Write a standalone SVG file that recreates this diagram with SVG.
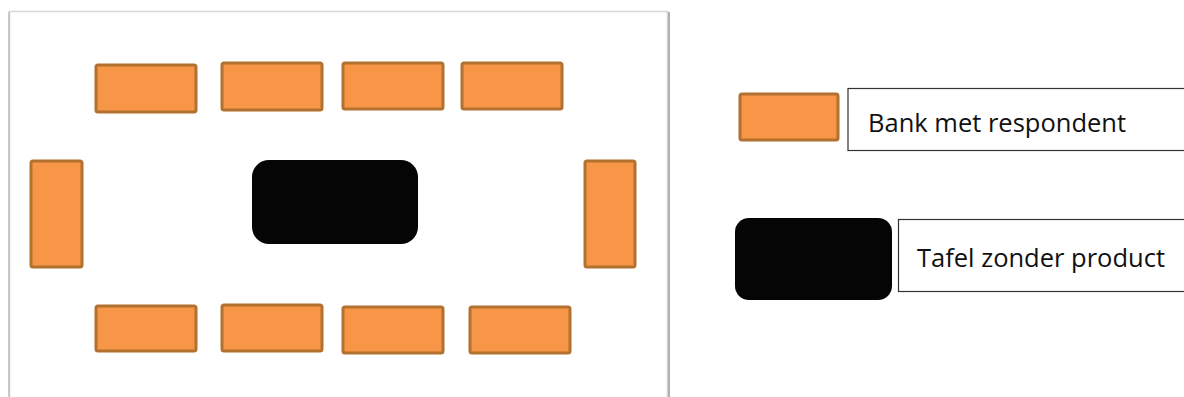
<svg xmlns="http://www.w3.org/2000/svg" width="1184" height="397" viewBox="0 0 1184 397">
<style>
.bank{fill:#F79646;stroke:#B3712F;stroke-width:3}
.table{fill:#050505}
.lbl{fill:#fff;stroke:#333;stroke-width:1.2}
.t{font-family:"Open Sans","Liberation Sans",sans-serif;font-size:25.5px;fill:#111}
</style>
<rect width="1184" height="397" fill="#fff"/>
<g id="frame">
<rect x="9.5" y="11.5" width="658" height="400" fill="#fff" stroke="#d6d6d6" stroke-width="1.5"/>
<line x1="669" y1="12" x2="669" y2="397" stroke="#b0b0b0" stroke-width="2"/>
<line x1="9" y1="12" x2="9" y2="397" stroke="#bdbdbd" stroke-width="1.5"/>
</g>
<g id="bank-top-1"><rect class="bank" x="96" y="65" width="100" height="47" rx="2"/></g>
<g id="bank-top-2"><rect class="bank" x="222" y="63" width="100" height="47" rx="2"/></g>
<g id="bank-top-3"><rect class="bank" x="343" y="63" width="100" height="46" rx="2"/></g>
<g id="bank-top-4"><rect class="bank" x="462" y="63" width="100" height="46" rx="2"/></g>
<g id="bank-left"><rect class="bank" x="31" y="161" width="51" height="106" rx="2"/></g>
<g id="bank-right"><rect class="bank" x="585" y="161" width="50" height="106" rx="2"/></g>
<g id="table"><rect class="table" x="252" y="160" width="166" height="84" rx="17"/></g>
<g id="bank-bottom-1"><rect class="bank" x="96" y="306" width="100" height="45" rx="2"/></g>
<g id="bank-bottom-2"><rect class="bank" x="222" y="305" width="100" height="46" rx="2"/></g>
<g id="bank-bottom-3"><rect class="bank" x="343" y="307" width="100" height="46" rx="2"/></g>
<g id="bank-bottom-4"><rect class="bank" x="470" y="307" width="100" height="46" rx="2"/></g>
<g id="legend-bank">
<rect class="bank" x="740" y="94" width="98" height="46" rx="2"/>
<rect class="lbl" x="848" y="88.5" width="340" height="62"/>
<text class="t" x="868" y="132">Bank met respondent</text>
</g>
<g id="legend-table">
<rect class="table" x="735" y="218" width="157" height="82" rx="14"/>
<rect class="lbl" x="898.5" y="219.5" width="290" height="72"/>
<text class="t" x="917" y="267">Tafel zonder product</text>
</g>
</svg>
